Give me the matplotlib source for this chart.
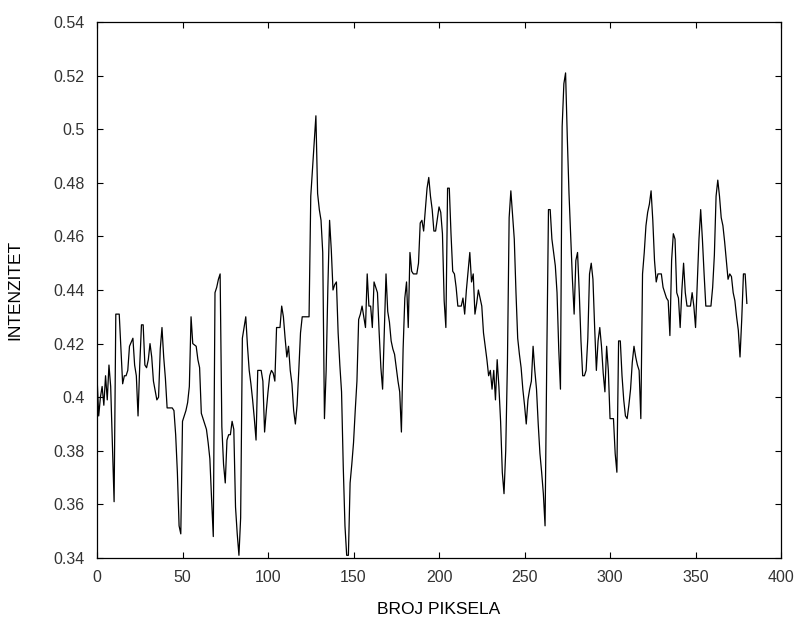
import matplotlib
matplotlib.use("Agg")
import matplotlib.pyplot as plt
from matplotlib.ticker import FuncFormatter

# pixel index along the profile and the measured intensity at that pixel
piksel = [
    0, 1, 2, 3, 4, 5, 6, 7, 8, 9, 10, 11, 13, 14, 15, 16, 17, 18, 19, 21,
    22, 23, 24, 25, 26, 27, 28, 29, 30, 31, 32, 33, 35, 36, 37, 38, 39, 40, 41, 44,
    45, 46, 47, 48, 49, 50, 51, 52, 53, 54, 55, 56, 58, 59, 60, 61, 62, 64, 65, 66,
    67, 68, 69, 70, 71, 72, 73, 74, 75, 76, 77, 78, 79, 80, 81, 82, 83, 84, 85, 86,
    87, 88, 89, 90, 91, 92, 93, 94, 96, 97, 98, 99, 100, 101, 102, 103, 104, 105, 107, 108,
    109, 110, 111, 112, 113, 114, 115, 116, 117, 118, 119, 120, 124, 125, 126, 127, 128, 129, 130, 131,
    132, 133, 134, 135, 136, 137, 138, 139, 140, 141, 142, 143, 144, 145, 146, 147, 148, 149, 150, 151,
    152, 153, 154, 155, 156, 157, 158, 159, 160, 161, 162, 163, 164, 165, 166, 167, 168, 169, 170, 171,
    172, 173, 174, 175, 176, 177, 178, 179, 180, 181, 182, 183, 184, 185, 187, 188, 189, 190, 191, 192,
    193, 194, 195, 196, 197, 198, 200, 201, 202, 203, 204, 205, 206, 207, 208, 209, 210, 211, 213, 214,
    215, 216, 217, 218, 219, 220, 221, 222, 223, 224, 225, 226, 227, 228, 229, 230, 231, 232, 233, 234,
    235, 236, 237, 238, 239, 240, 241, 242, 243, 244, 245, 246, 247, 248, 249, 250, 251, 252, 253, 254,
    255, 256, 257, 258, 259, 260, 261, 262, 263, 264, 265, 266, 267, 268, 269, 270, 271, 272, 273, 274,
    275, 276, 277, 278, 279, 280, 281, 282, 283, 284, 285, 286, 287, 288, 289, 290, 291, 292, 293, 294,
    295, 296, 297, 298, 299, 300, 302, 303, 304, 305, 306, 307, 308, 309, 310, 311, 312, 313, 314, 315,
    316, 317, 318, 319, 320, 321, 322, 323, 324, 325, 326, 327, 328, 330, 331, 332, 333, 334, 335, 336,
    337, 338, 339, 340, 341, 342, 343, 344, 345, 347, 348, 349, 350, 351, 352, 353, 354, 355, 356, 359,
    360, 361, 362, 363, 364, 365, 366, 367, 368, 369, 370, 371, 372, 373, 374, 375, 376, 377, 378, 379,
    380,
]
intenzitet = [
    0.408, 0.393, 0.400, 0.404, 0.397, 0.408, 0.399, 0.412, 0.404, 0.383, 0.361, 0.431, 0.431, 0.418, 0.405, 0.408, 0.408, 0.410, 0.419, 0.422,
    0.412, 0.408, 0.393, 0.412, 0.427, 0.427, 0.412, 0.411, 0.414, 0.420, 0.415, 0.406, 0.399, 0.400, 0.418, 0.426, 0.415, 0.407, 0.396, 0.396,
    0.395, 0.386, 0.372, 0.352, 0.349, 0.391, 0.393, 0.395, 0.398, 0.404, 0.430, 0.420, 0.419, 0.414, 0.411, 0.394, 0.392, 0.388, 0.383, 0.377,
    0.362, 0.348, 0.439, 0.441, 0.444, 0.446, 0.389, 0.375, 0.368, 0.384, 0.386, 0.386, 0.391, 0.388, 0.359, 0.349, 0.341, 0.355, 0.422, 0.426,
    0.430, 0.419, 0.410, 0.405, 0.399, 0.392, 0.384, 0.410, 0.410, 0.406, 0.387, 0.395, 0.402, 0.408, 0.410, 0.409, 0.406, 0.426, 0.426, 0.434,
    0.430, 0.422, 0.415, 0.419, 0.410, 0.405, 0.395, 0.390, 0.397, 0.410, 0.424, 0.430, 0.430, 0.475, 0.485, 0.495, 0.505, 0.476, 0.470, 0.466,
    0.454, 0.392, 0.410, 0.441, 0.466, 0.455, 0.440, 0.442, 0.443, 0.424, 0.412, 0.402, 0.374, 0.352, 0.341, 0.341, 0.368, 0.375, 0.383, 0.395,
    0.406, 0.429, 0.431, 0.434, 0.430, 0.426, 0.446, 0.434, 0.434, 0.426, 0.443, 0.441, 0.439, 0.424, 0.411, 0.403, 0.425, 0.446, 0.432, 0.428,
    0.421, 0.418, 0.416, 0.411, 0.406, 0.402, 0.387, 0.418, 0.437, 0.443, 0.426, 0.454, 0.447, 0.446, 0.446, 0.450, 0.465, 0.466, 0.462, 0.470,
    0.478, 0.482, 0.475, 0.470, 0.462, 0.462, 0.471, 0.469, 0.461, 0.436, 0.426, 0.478, 0.478, 0.461, 0.447, 0.446, 0.441, 0.434, 0.434, 0.437,
    0.431, 0.440, 0.447, 0.454, 0.443, 0.446, 0.431, 0.435, 0.440, 0.437, 0.434, 0.424, 0.419, 0.414, 0.408, 0.410, 0.403, 0.410, 0.399, 0.414,
    0.404, 0.391, 0.372, 0.364, 0.380, 0.413, 0.467, 0.477, 0.468, 0.459, 0.439, 0.422, 0.416, 0.411, 0.403, 0.397, 0.390, 0.399, 0.403, 0.406,
    0.419, 0.410, 0.403, 0.390, 0.379, 0.372, 0.364, 0.352, 0.414, 0.470, 0.470, 0.459, 0.454, 0.449, 0.439, 0.418, 0.403, 0.501, 0.517, 0.521,
    0.497, 0.476, 0.460, 0.444, 0.431, 0.451, 0.454, 0.439, 0.421, 0.408, 0.408, 0.410, 0.422, 0.446, 0.450, 0.444, 0.426, 0.410, 0.421, 0.426,
    0.419, 0.409, 0.402, 0.419, 0.410, 0.392, 0.392, 0.379, 0.372, 0.421, 0.421, 0.408, 0.399, 0.393, 0.392, 0.397, 0.403, 0.413, 0.419, 0.415,
    0.412, 0.410, 0.392, 0.446, 0.454, 0.464, 0.469, 0.472, 0.477, 0.466, 0.451, 0.443, 0.446, 0.446, 0.441, 0.439, 0.437, 0.436, 0.423, 0.451,
    0.461, 0.459, 0.439, 0.437, 0.426, 0.440, 0.450, 0.439, 0.434, 0.434, 0.439, 0.434, 0.426, 0.443, 0.459, 0.470, 0.459, 0.446, 0.434, 0.434,
    0.441, 0.453, 0.475, 0.481, 0.475, 0.467, 0.464, 0.458, 0.451, 0.444, 0.446, 0.445, 0.439, 0.436, 0.430, 0.425, 0.415, 0.429, 0.446, 0.446,
    0.435,
]

x_ticks = [0, 50, 100, 150, 200, 250, 300, 350, 400]
y_ticks = [0.34, 0.36, 0.38, 0.4, 0.42, 0.44, 0.46, 0.48, 0.5, 0.52, 0.54]

plt.rcParams['font.family'] = ['Liberation Sans', 'DejaVu Sans']

fig = plt.figure(figsize=(7.97, 6.18), dpi=100)
ax = fig.add_axes([0.1217, 0.0971, 0.8583, 0.8673])

ax.plot(piksel, intenzitet, color='black', linewidth=0.9)

ax.set_xlim(0, 400)
ax.set_ylim(0.34, 0.54)
ax.set_xticks(x_ticks)
ax.set_yticks(y_ticks)
ax.yaxis.set_major_formatter(FuncFormatter(lambda v, p: f"{v:g}"))

ax.tick_params(direction='in', length=4, width=0.8, top=True, right=True,
               labelsize=11.5, labelcolor='#333333', pad=9)
for s in ax.spines.values():
    s.set_linewidth(0.9)

ax.set_xlabel('BROJ PIKSELA', fontsize=12.5, labelpad=12)
ax.set_ylabel('INTENZITET', fontsize=12.5, labelpad=22)

fig.savefig('out.png', dpi=100)
